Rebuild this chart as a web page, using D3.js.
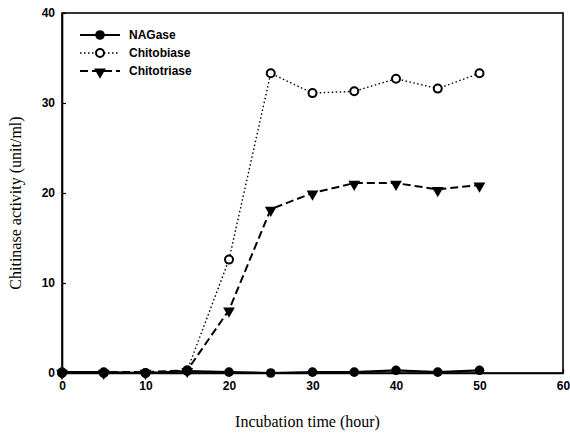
<!DOCTYPE html>
<html><head><meta charset="utf-8">
<script src="https://cdn.jsdelivr.net/npm/d3@7"></script>
<style>body{margin:0;background:#fff}</style>
</head><body>
<svg id="c" width="570" height="439"></svg>
<script>
const hours = [0,5,10,15,20,25,30,35,40,45,50];
const nagase = [0.1,0.1,0.0,0.2,0.1,0.0,0.1,0.1,0.3,0.1,0.3];
const chitobiase = [0.0,0.0,0.0,0.3,12.6,33.3,31.1,31.3,32.7,31.6,33.3];
const chitotriase = [0.1,0.1,0.1,0.3,7.0,18.2,20.0,21.1,21.1,20.4,20.9];
const xTicks = [0,10,20,30,40,50,60];
const yTicks = [0,10,20,30,40];

const svg = d3.select("#c");
const L=62,R=563,T=13,B=373;
const x = d3.scaleLinear().domain([0,60]).range([L,R]);
const y = d3.scaleLinear().domain([0,40]).range([B,T]);

svg.append("rect").attr("x",L).attr("y",T).attr("width",R-L).attr("height",B-T)
  .attr("fill","none").attr("stroke","#000").attr("stroke-width",1.6);

const xa = svg.append("g").attr("transform",`translate(0,${B})`)
  .call(d3.axisBottom(x).tickValues(xTicks).tickSizeInner(-4).tickSizeOuter(0).tickPadding(8));
const ya = svg.append("g").attr("transform",`translate(${L},0)`)
  .call(d3.axisLeft(y).tickValues(yTicks).tickSizeInner(-4).tickSizeOuter(0).tickPadding(7));
[xa,ya].forEach(a=>{
  a.select(".domain").attr("stroke","#000").attr("stroke-width",1.6);
  a.selectAll(".tick line").attr("stroke","#000").attr("stroke-width",1.2);
  a.selectAll("text").attr("font-family","Liberation Sans, Arial, sans-serif")
   .attr("font-weight","bold").attr("font-size",12).attr("fill","#000");
});

const line = d3.line().x((d,i)=>x(hours[i])).y(d=>y(d));
const series = [
  {name:"NAGase", data:nagase, dash:null, w:2.2, marker:"fill"},
  {name:"Chitobiase", data:chitobiase, dash:"1.5,2.5", w:1.4, marker:"open"},
  {name:"Chitotriase", data:chitotriase, dash:"8,4", w:2, marker:"tri"}
];
const tri = d3.symbol().type(d3.symbolTriangle).size(60);
function marker(g,type,cx,cy){
  if(type==="fill") g.append("circle").attr("cx",cx).attr("cy",cy).attr("r",4.8).attr("fill","#000");
  else if(type==="open") g.append("circle").attr("cx",cx).attr("cy",cy).attr("r",4).attr("fill","#fff").attr("stroke","#000").attr("stroke-width",2);
  else g.append("path").attr("d",tri()).attr("transform",`translate(${cx},${cy+1}) rotate(180)`).attr("fill","#000");
}
[series[1],series[2],series[0]].forEach(s=>{
  svg.append("path").datum(s.data).attr("d",line).attr("fill","none")
    .attr("stroke","#000").attr("stroke-width",s.w).attr("stroke-dasharray",s.dash);
  const g=svg.append("g");
  s.data.forEach((d,i)=>marker(g,s.marker,x(hours[i]),y(d)));
});

const ly=[35,53,71];
series.forEach((s,i)=>{
  svg.append("line").attr("x1",80).attr("x2",120).attr("y1",ly[i]).attr("y2",ly[i])
    .attr("stroke","#000").attr("stroke-width",s.w).attr("stroke-dasharray",s.dash);
  marker(svg,s.marker,100,ly[i]);
  svg.append("text").attr("x",129).attr("y",ly[i]+4).text(s.name)
    .attr("font-family","Liberation Sans, Arial, sans-serif").attr("font-weight","bold").attr("font-size",12);
});

svg.append("text").attr("x",(L+R)/2-5).attr("y",427).attr("text-anchor","middle")
  .attr("font-family","Liberation Serif, Times New Roman, serif").attr("font-size",16).text("Incubation time (hour)");
svg.append("text").attr("transform",`translate(21,${(T+B)/2+10}) rotate(-90)`).attr("text-anchor","middle")
  .attr("font-family","Liberation Serif, Times New Roman, serif").attr("font-size",16).text("Chitinase activity (unit/ml)");
</script>
</body></html>
